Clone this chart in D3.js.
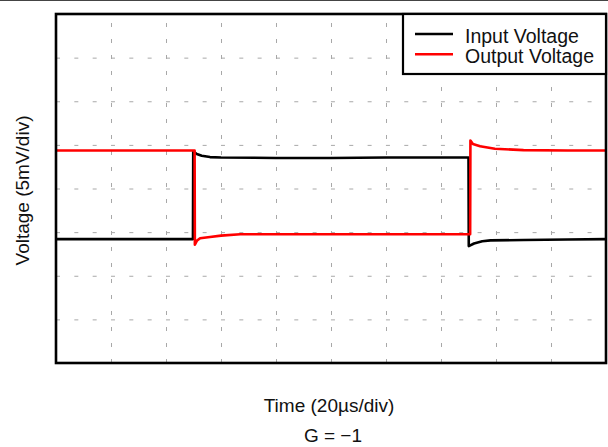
<!DOCTYPE html>
<html>
<head>
<meta charset="utf-8">
<script src="https://cdn.jsdelivr.net/npm/d3@7"></script>
<style>
  body { margin: 0; background: #fff; }
  svg text { font-family: "Liberation Sans", Arial, sans-serif; fill: #111; }
</style>
</head>
<body>
<div class="chart"></div>
<script>
// Data, in scope divisions: time 0..10 div, voltage 0..8 div
const seriesNames = ["Input Voltage", "Output Voltage"];
const seriesColors = ["#000000", "#ff0000"];

const inputT = [0, 1, 2, 2.49, 2.495, 2.56, 2.65, 2.8, 3.0, 4, 5, 6, 7, 7.50, 7.505, 7.6, 7.75, 7.9, 8.5, 9.3, 10];
const inputV = [2.84, 2.84, 2.84, 2.84, 4.85, 4.79, 4.75, 4.72, 4.71, 4.70, 4.70, 4.71, 4.71, 4.71, 2.68, 2.74, 2.79, 2.81, 2.82, 2.83, 2.84];

const outputT = [0, 1, 2, 2.52, 2.525, 2.56, 2.62, 2.8, 3.0, 3.35, 4, 5, 6, 7, 7.53, 7.535, 7.58, 7.71, 7.98, 8.5, 9.3, 10];
const outputV = [4.87, 4.87, 4.87, 4.87, 2.71, 2.80, 2.86, 2.89, 2.92, 2.95, 2.95, 2.95, 2.95, 2.95, 2.95, 5.10, 5.02, 4.97, 4.91, 4.88, 4.87, 4.87];

const xLabel = "Time (20µs/div)";
const yLabel = "Voltage (5mV/div)";
const caption = "G = \u22121";

// Layout
const width = 608, height = 447;
const plot = {left: 56, right: 606, top: 14, bottom: 363};

const svg = d3.select(".chart").append("svg")
  .attr("width", width)
  .attr("height", height);

const x = d3.scaleLinear().domain([0, 10]).range([plot.left, plot.right]);
const y = d3.scaleLinear().domain([0, 8]).range([plot.bottom, plot.top]);

// thin rule across the top of the page
svg.append("line")
  .attr("x1", 0).attr("x2", width)
  .attr("y1", 0.5).attr("y2", 0.5)
  .attr("stroke", "#444").attr("stroke-width", 1.2);

// Grid (dashed), drawn with axes
const xGrid = d3.axisBottom(x).ticks(10).tickSize(-(plot.bottom - plot.top)).tickFormat("");
const yGrid = d3.axisLeft(y).ticks(8).tickSize(-(plot.right - plot.left)).tickFormat("");

const gx = svg.append("g")
  .attr("transform", `translate(0,${plot.bottom})`)
  .call(xGrid);
const gy = svg.append("g")
  .attr("transform", `translate(${plot.left},0)`)
  .call(yGrid);
[gx, gy].forEach(g => {
  g.select(".domain").remove();
  g.selectAll(".tick line")
    .attr("stroke", "#a8a8a8")
    .attr("stroke-width", 1);
});
gx.selectAll(".tick line").attr("stroke-dasharray", "4,12");
gy.selectAll(".tick line").attr("stroke-dasharray", "4,14.33");

// Traces
const line = d3.line()
  .x(d => x(d[0]))
  .y(d => y(d[1]));

const traces = [
  d3.zip(inputT, inputV),
  d3.zip(outputT, outputV)
];

svg.selectAll(".trace")
  .data(traces)
  .join("path")
  .attr("class", "trace")
  .attr("d", line)
  .attr("fill", "none")
  .attr("stroke", (d, i) => seriesColors[i])
  .attr("stroke-width", 2.6)
  .attr("stroke-linejoin", "round");

// Frame
svg.append("rect")
  .attr("x", plot.left).attr("y", plot.top)
  .attr("width", plot.right - plot.left)
  .attr("height", plot.bottom - plot.top)
  .attr("fill", "none")
  .attr("stroke", "#000")
  .attr("stroke-width", 2.6);

// Legend
const legend = svg.append("g");
legend.append("rect")
  .attr("x", 403).attr("y", plot.top)
  .attr("width", plot.right - 403).attr("height", 60)
  .attr("fill", "#fff")
  .attr("stroke", "#000")
  .attr("stroke-width", 2.2);

const legItems = legend.selectAll(".leg")
  .data(seriesNames)
  .join("g")
  .attr("class", "leg")
  .attr("transform", (d, i) => `translate(0,${34 + i * 20.3})`);
legItems.append("line")
  .attr("x1", 415).attr("x2", 453)
  .attr("stroke", (d, i) => seriesColors[i])
  .attr("stroke-width", 2.6);
legItems.append("text")
  .attr("x", 465).attr("y", 8.5)
  .attr("font-size", 19.5)
  .text(d => d);

// Axis titles
svg.append("text")
  .attr("x", (plot.left + plot.right) / 2 - 2)
  .attr("y", 412)
  .attr("text-anchor", "middle")
  .attr("font-size", 19)
  .text(xLabel);

svg.append("text")
  .attr("transform", `translate(29,${(plot.top + plot.bottom) / 2 + 2}) rotate(-90)`)
  .attr("text-anchor", "middle")
  .attr("font-size", 19)
  .text(yLabel);

svg.append("text")
  .attr("x", (plot.left + plot.right) / 2 + 2)
  .attr("y", 442)
  .attr("text-anchor", "middle")
  .attr("font-size", 19)
  .text(caption);
</script>
</body>
</html>
